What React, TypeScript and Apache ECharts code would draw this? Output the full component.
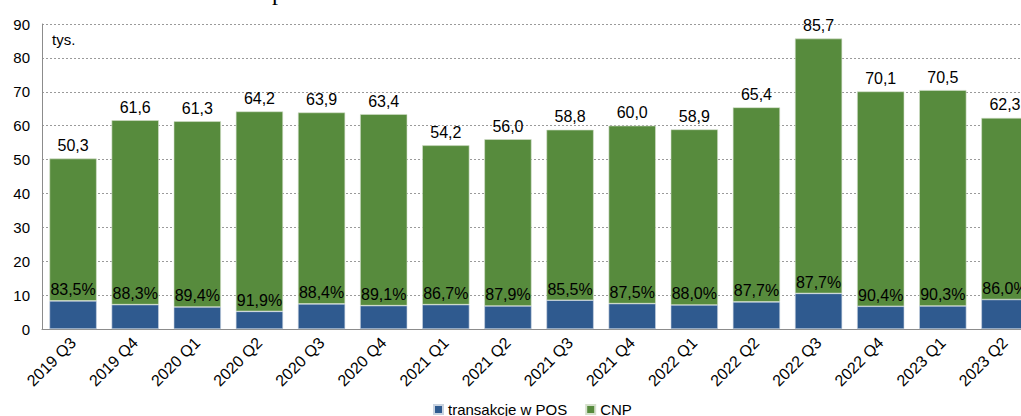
import React, { useEffect, useRef } from "react";
import * as echarts from "echarts";

const categories = [
  "2019 Q3", "2019 Q4", "2020 Q1", "2020 Q2", "2020 Q3", "2020 Q4",
  "2021 Q1", "2021 Q2", "2021 Q3", "2021 Q4", "2022 Q1", "2022 Q2",
  "2022 Q3", "2022 Q4", "2023 Q1", "2023 Q2",
];
const posValues = [8.3, 7.2, 6.5, 5.2, 7.4, 6.9, 7.2, 6.8, 8.5, 7.5, 7.1, 8.0, 10.5, 6.7, 6.8, 8.7];
const cnpValues = [42.0, 54.4, 54.8, 59.0, 56.5, 56.5, 47.0, 49.2, 50.3, 52.5, 51.8, 57.4, 75.2, 63.4, 63.7, 53.6];
const totals = [50.3, 61.6, 61.3, 64.2, 63.9, 63.4, 54.2, 56.0, 58.8, 60.0, 58.9, 65.4, 85.7, 70.1, 70.5, 62.3];
const cnpShare = [83.5, 88.3, 89.4, 91.9, 88.4, 89.1, 86.7, 87.9, 85.5, 87.5, 88.0, 87.7, 87.7, 90.4, 90.3, 86.0];

const fmt = (v: number) => v.toFixed(1).replace(".", ",");
const FONT = "'Liberation Sans', Arial, sans-serif";

export default function App() {
  const ref = useRef<HTMLDivElement>(null);
  useEffect(() => {
    if (!ref.current) return;
    const chart = echarts.init(ref.current, undefined, { renderer: "svg" });
    chart.setOption({
      animation: false,
      textStyle: { fontFamily: FONT },
      grid: { left: 42, right: 9, top: 24, bottom: 87, containLabel: false },
      legend: {
        data: ["transakcje w POS", "CNP"],
        left: 428,
        top: 397,
        itemWidth: 9,
        itemHeight: 9,
        itemGap: 18,
        icon: "rect",
        textStyle: { fontSize: 15, color: "#000", fontFamily: FONT },
      },
      graphic: [
        {
          type: "text",
          left: 52,
          top: 32,
          style: { text: "tys.", fontSize: 15, fill: "#000", fontFamily: FONT },
        },
        {
          type: "text",
          x: 278,
          y: 4,
          style: {
            text: "p",
            fontSize: 24,
            fill: "#000",
            fontFamily: "'Liberation Serif', 'Times New Roman', serif",
            align: "center",
            verticalAlign: "bottom",
          },
        },
      ],
      xAxis: {
        type: "category",
        data: categories,
        axisTick: { show: false },
        axisLine: { lineStyle: { color: "#8c8c8c", width: 1 } },
        axisLabel: { rotate: 45, fontSize: 16, color: "#000", margin: 11, fontFamily: FONT },
      },
      yAxis: {
        type: "value",
        min: 0,
        max: 90,
        interval: 10,
        axisLine: { show: true, lineStyle: { color: "#8c8c8c", width: 1 } },
        axisTick: { show: false },
        axisLabel: { fontSize: 15, color: "#000", margin: 12, fontFamily: FONT },
        splitLine: { lineStyle: { color: "#9a9a9a", type: [2, 2], width: 1 } },
      },
      series: [
        {
          name: "transakcje w POS",
          type: "bar",
          stack: "total",
          data: posValues,
          barCategoryGap: "24%",
          itemStyle: { color: "#2f5a8f", borderColor: "#c9d3e0", borderWidth: 0.6 },
          label: {
            show: true,
            position: "top",
            distance: 3,
            fontSize: 16,
            color: "#000",
            fontFamily: FONT,
            formatter: (p: any) => fmt(cnpShare[p.dataIndex]) + "%",
          },
        },
        {
          name: "CNP",
          type: "bar",
          stack: "total",
          data: cnpValues,
          barCategoryGap: "24%",
          itemStyle: { color: "#578b3d", borderColor: "#d5e0cc", borderWidth: 0.6 },
          label: {
            show: true,
            position: "top",
            distance: 5,
            fontSize: 16,
            color: "#000",
            fontFamily: FONT,
            formatter: (p: any) => fmt(totals[p.dataIndex]),
          },
        },
      ],
    });
    return () => chart.dispose();
  }, []);
  return (
    <div style={{ position: "fixed", left: 0, top: 0, width: 1021, height: 416, overflow: "hidden", background: "#fff" }}>
      <div ref={ref} style={{ width: 1045, height: 416 }} />
    </div>
  );
}
